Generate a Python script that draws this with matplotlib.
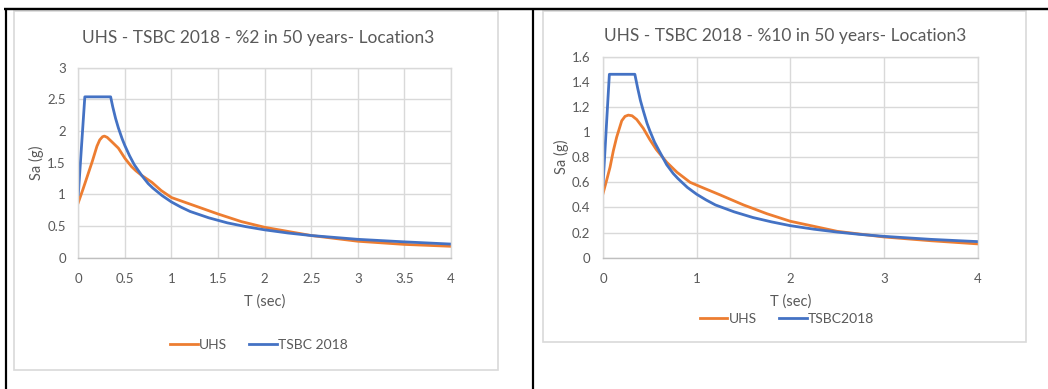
import matplotlib
matplotlib.use("Agg")
import matplotlib.pyplot as plt
from matplotlib.lines import Line2D
from matplotlib.patches import Rectangle

plt.rcParams['font.family'] = ['Lato', 'DejaVu Sans']

# ---- %2 in 50 years ----
t_uhs_2 = [0, 0.05, 0.1, 0.15, 0.2, 0.23, 0.26, 0.28, 0.31, 0.36, 0.43, 0.5, 0.57, 0.62,
           0.68, 0.79, 0.89, 1.0, 1.25, 1.5, 1.75, 2.0, 2.5, 3.0, 3.5, 4.0]
sa_uhs_2 = [0.87, 1.08, 1.30, 1.52, 1.76, 1.86, 1.91, 1.92, 1.90, 1.83, 1.73, 1.57, 1.44, 1.37,
            1.30, 1.19, 1.06, 0.95, 0.82, 0.69, 0.57, 0.48, 0.35, 0.26, 0.21, 0.18]
t_tsbc_2 = [0, 0.07, 0.347, 0.37, 0.4, 0.43, 0.47, 0.5, 0.55, 0.6, 0.68, 0.75, 0.8, 0.9,
            1.0, 1.1, 1.2, 1.4, 1.6, 1.8, 2.0, 2.25, 2.5, 2.75, 3.0, 3.5, 4.0]
sa_tsbc_2 = [1.00, 2.54, 2.54, 2.38, 2.20, 2.05, 1.88, 1.77, 1.61, 1.47, 1.30, 1.17, 1.10, 0.98,
             0.88, 0.80, 0.73, 0.63, 0.55, 0.49, 0.44, 0.39, 0.35, 0.32, 0.29, 0.25, 0.215]

# ---- %10 in 50 years ----
t_uhs_10 = [0, 0.04, 0.075, 0.11, 0.146, 0.2, 0.235, 0.27, 0.31, 0.36, 0.43, 0.5, 0.57,
            0.68, 0.79, 0.93, 1.04, 1.25, 1.5, 1.75, 2.0, 2.5, 3.0, 3.5, 4.0]
sa_uhs_10 = [0.51, 0.62, 0.72, 0.85, 0.96, 1.09, 1.125, 1.135, 1.13, 1.10, 1.03, 0.94, 0.86,
             0.76, 0.68, 0.60, 0.565, 0.50, 0.42, 0.35, 0.29, 0.21, 0.165, 0.135, 0.11]
t_tsbc_10 = [0, 0.068, 0.34, 0.37, 0.4, 0.43, 0.47, 0.5, 0.55, 0.6, 0.68, 0.75, 0.8, 0.9,
             1.0, 1.1, 1.2, 1.4, 1.6, 1.8, 2.0, 2.25, 2.5, 2.75, 3.0, 3.5, 4.0]
sa_tsbc_10 = [0.58, 1.46, 1.46, 1.35, 1.25, 1.17, 1.07, 1.01, 0.92, 0.85, 0.74, 0.67, 0.63,
              0.56, 0.505, 0.46, 0.42, 0.365, 0.32, 0.285, 0.255, 0.227, 0.204, 0.185, 0.17,
              0.146, 0.128]

xticks_2 = [0, 0.5, 1, 1.5, 2, 2.5, 3, 3.5, 4]
xticklabels_2 = ["0", "0.5", "1", "1.5", "2", "2.5", "3", "3.5", "4"]
yticks_2 = [0, 0.5, 1, 1.5, 2, 2.5, 3]
yticklabels_2 = ["0", "0.5", "1", "1.5", "2", "2.5", "3"]
xticks_10 = [0, 1, 2, 3, 4]
xticklabels_10 = ["0", "1", "2", "3", "4"]
yticks_10 = [0, 0.2, 0.4, 0.6, 0.8, 1.0, 1.2, 1.4, 1.6]
yticklabels_10 = ["0", "0.2", "0.4", "0.6", "0.8", "1", "1.2", "1.4", "1.6"]

ORANGE = "#ED7D31"
BLUE = "#4472C4"
GRID = "#D9D9D9"
TEXT = "#595959"

W, H = 1048, 389
fig = plt.figure(figsize=(W / 100, H / 100), dpi=100)
fig.patch.set_facecolor("white")


def px_rect(x0, y0, x1, y1):
    """Convert a pixel box (top-left origin) to figure fractions."""
    return [x0 / W, 1 - y1 / H, (x1 - x0) / W, (y1 - y0) / H]


def fx(x):
    return x / W


def fy(y):
    return 1 - y / H


# table frame lines
for (x0, y0, x1, y1, lw) in [(4, 8.5, W, 8.5, 2.4), (5.5, 8.5, 5.5, H, 2.2),
                             (533, 8.5, 533, H, 2.2)]:
    fig.add_artist(Line2D([fx(x0), fx(x1)], [fy(y0), fy(y1)], color="black", lw=lw * 0.72,
                          solid_capstyle="butt"))

# chart area frames
for (x0, y0, x1, y1) in [(14, 11, 498, 370), (543, 11, 1026, 342)]:
    fig.add_artist(Rectangle((fx(x0), fy(y1)), fx(x1 - x0), (y1 - y0) / H,
                             transform=fig.transFigure, fill=False,
                             edgecolor="#D9D9D9", lw=1.2))


def style_axes(ax, xticks, xlabels, yticks, ylabels, ymax):
    ax.set_xlim(0, 4)
    ax.set_ylim(0, ymax)
    ax.set_xticks(xticks)
    ax.set_xticklabels(xlabels)
    ax.set_yticks(yticks)
    ax.set_yticklabels(ylabels)
    ax.tick_params(length=0, labelsize=9.5, labelcolor=TEXT)
    ax.tick_params(axis="x", pad=11)
    ax.tick_params(axis="y", pad=9)
    ax.grid(True, color=GRID, lw=1.0)
    ax.set_axisbelow(True)
    for side in ["top", "right", "left"]:
        ax.spines[side].set_color(GRID)
        ax.spines[side].set_linewidth(1.0)
    ax.spines["bottom"].set_color("#BFBFBF")
    ax.spines["bottom"].set_linewidth(1.0)
    ax.set_xlabel("T (sec)", fontsize=10.5, color=TEXT, labelpad=7)
    ax.set_ylabel("Sa (g)", fontsize=10.5, color=TEXT, labelpad=2)


# left chart
ax1 = fig.add_axes(px_rect(78.3, 67.7, 451, 257.7))
ax1.plot(t_uhs_2, sa_uhs_2, color=ORANGE, lw=2.0, solid_joinstyle="round", label="UHS")
ax1.plot(t_tsbc_2, sa_tsbc_2, color=BLUE, lw=2.0, solid_joinstyle="round", label="TSBC 2018")
style_axes(ax1, xticks_2, xticklabels_2, yticks_2, yticklabels_2, 3)
fig.text(fx(258), fy(38), "UHS - TSBC 2018 - %2 in 50 years- Location3",
         ha="center", va="center", fontsize=12.5, color=TEXT)
fig.legend(handles=ax1.get_lines(), loc="center", bbox_to_anchor=(fx(259), fy(345)),
           ncol=2, frameon=False, fontsize=10, labelcolor=TEXT, handlelength=2.0,
           handletextpad=0.1, columnspacing=1.6)

# right chart
ax2 = fig.add_axes(px_rect(603, 56.7, 977.7, 257.7))
ax2.plot(t_uhs_10, sa_uhs_10, color=ORANGE, lw=2.0, solid_joinstyle="round", label="UHS")
ax2.plot(t_tsbc_10, sa_tsbc_10, color=BLUE, lw=2.0, solid_joinstyle="round", label="TSBC2018")
style_axes(ax2, xticks_10, xticklabels_10, yticks_10, yticklabels_10, 1.6)
fig.text(fx(785), fy(36), "UHS - TSBC 2018 - %10 in 50 years- Location3",
         ha="center", va="center", fontsize=12.5, color=TEXT)
fig.legend(handles=ax2.get_lines(), loc="center", bbox_to_anchor=(fx(787), fy(319)),
           ncol=2, frameon=False, fontsize=10, labelcolor=TEXT, handlelength=2.0,
           handletextpad=0.1, columnspacing=1.6)

fig.savefig("out.png", dpi=100)
